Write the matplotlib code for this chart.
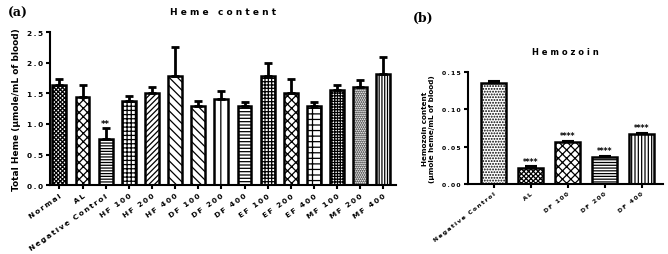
import numpy as np
import matplotlib
matplotlib.use("Agg")
import matplotlib.pyplot as plt

plt.rcParams['hatch.linewidth'] = 0.9
plt.rcParams['font.weight'] = 'bold'

# ---- panel (a) data ----
heme_groups = ["Normal", "AL", "Negative Control", "HF 100", "HF 200", "HF 400",
               "DF 100", "DF 200", "DF 400", "EF 100", "EF 200", "EF 400",
               "MF 100", "MF 200", "MF 400"]
heme_mean = [1.63, 1.44, 0.75, 1.38, 1.51, 1.78, 1.29, 1.41, 1.29, 1.78, 1.50, 1.29, 1.55, 1.60, 1.82]
heme_err = [0.11, 0.19, 0.18, 0.07, 0.09, 0.47, 0.08, 0.13, 0.07, 0.21, 0.24, 0.07, 0.09, 0.12, 0.27]
heme_stars = ["", "", "**", "", "", "", "", "", "", "", "", "", "", "", ""]
heme_hatch = ["xxxxxxxx", "xxxx", "------", "++++", "//////", "\\\\\\\\", "\\\\\\\\", "||",
              "-----", "+++++", "xxxx", "++-", "++++++", "........", "||||||"]

# ---- panel (b) data ----
hz_groups = ["Negative Control", "AL", "DF 100", "DF 200", "DF 400"]
hz_mean = [0.136, 0.021, 0.056, 0.036, 0.067]
hz_err = [0.002, 0.003, 0.002, 0.002, 0.002]
hz_stars = ["", "****", "****", "****", "****"]
hz_hatch = ["......", "xxxxxxx", "xxxx", "------", "|||||"]

TS = "\u2009"


def sp(s, sep=TS):
    # letter-spaced text like the original figure
    return sep.join(list(s))


def style_axes(ax, fs):
    for side in ["top", "right"]:
        ax.spines[side].set_visible(False)
    for side in ["left", "bottom"]:
        ax.spines[side].set_linewidth(1.5)
    ax.tick_params(width=1.5, length=3, labelsize=fs, pad=2)


fig = plt.figure(figsize=(6.68, 2.55), dpi=100)

# ---------------- panel (a) ----------------
ax1 = fig.add_axes([0.075, 0.27, 0.518, 0.60])
x1 = np.arange(len(heme_groups))
ax1.bar(x1, heme_mean, width=0.6, color="white", edgecolor="black", linewidth=1.8,
        hatch=heme_hatch, yerr=[np.zeros(len(heme_err)), heme_err],
        error_kw=dict(ecolor="black", elinewidth=2, capsize=3, capthick=2))
for xi, m, e, s in zip(x1, heme_mean, heme_err, heme_stars):
    if s:
        ax1.text(xi, m + e + 0.01, s, ha="center", va="bottom", fontsize=6)
ax1.set_xlim(-0.4, len(heme_groups) - 0.45)
ax1.set_ylim(0, 2.5)
ax1.set_yticks([0, 0.5, 1.0, 1.5, 2.0, 2.5])
ax1.set_yticklabels([sp(f"{v:.1f}") for v in [0, 0.5, 1.0, 1.5, 2.0, 2.5]], fontsize=5.3)
ax1.set_xticks(x1)
ax1.set_xticklabels([sp(g) for g in heme_groups], rotation=35, ha="right",
                    rotation_mode="anchor")
style_axes(ax1, 5.3)
ax1.set_ylabel("Total Heme (\u00b5mole/mL of blood)", fontsize=6.5, fontweight="bold", labelpad=4)
ax1.set_title(" ".join(list("Heme content")), fontsize=6.5, fontweight="bold", pad=13)

# ---------------- panel (b) ----------------
ax2 = fig.add_axes([0.70, 0.2745, 0.2925, 0.439])
x2 = np.arange(len(hz_groups))
ax2.bar(x2, hz_mean, width=0.65, color="white", edgecolor="black", linewidth=1.8,
        hatch=hz_hatch, yerr=[np.zeros(len(hz_err)), hz_err],
        error_kw=dict(ecolor="black", elinewidth=1.5, capsize=4, capthick=1.5))
for xi, m, e, s in zip(x2, hz_mean, hz_err, hz_stars):
    if s:
        ax2.text(xi, m + e + 0.0003, s, ha="center", va="bottom", fontsize=5.5)
ax2.set_xlim(-0.7, len(hz_groups) - 0.42)
ax2.set_ylim(0, 0.15)
ax2.set_yticks([0, 0.05, 0.10, 0.15])
ax2.set_yticklabels([sp(f"{v:.2f}") for v in [0, 0.05, 0.10, 0.15]])
ax2.set_xticks(x2)
ax2.set_xticklabels([sp(g) for g in hz_groups], rotation=38, ha="right",
                    rotation_mode="anchor")
style_axes(ax2, 4.4)
ax2.set_ylabel("Hemozoin content\n(\u00b5mole heme/mL of blood)", fontsize=5.2,
               fontweight="bold", labelpad=5)
ax2.set_title(" ".join(list("Hemozoin")), fontsize=6, fontweight="bold", pad=13)

fig.text(0.012, 0.935, "(a)", fontsize=9, fontweight="bold", family="DejaVu Serif")
fig.text(0.618, 0.915, "(b)", fontsize=9, fontweight="bold", family="DejaVu Serif")

fig.savefig("out.png", dpi=100)
